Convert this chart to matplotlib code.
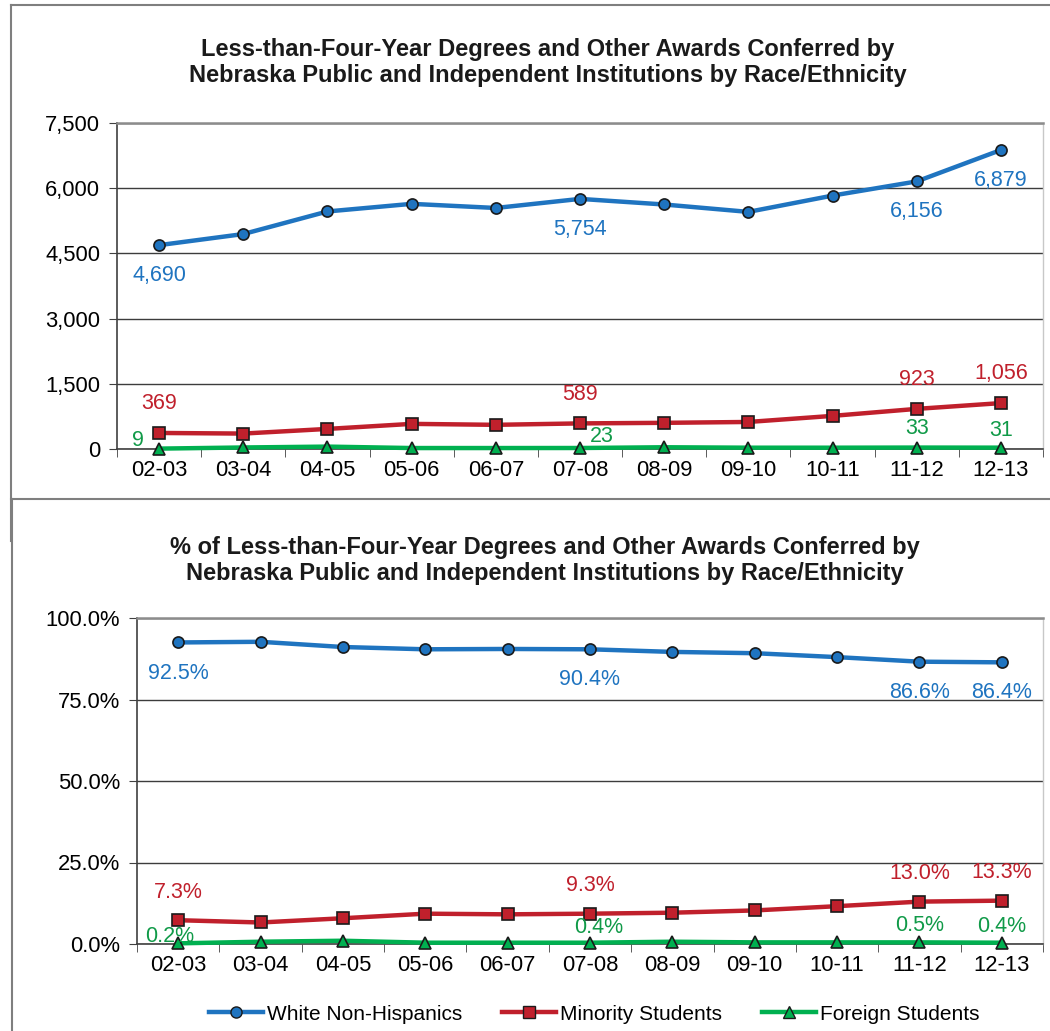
import matplotlib
matplotlib.use("Agg")
import matplotlib.pyplot as plt
from matplotlib.lines import Line2D
import numpy as np

plt.rcParams['font.family'] = ['Liberation Sans', 'DejaVu Sans']

years = ["02-03", "03-04", "04-05", "05-06", "06-07", "07-08", "08-09", "09-10", "10-11", "11-12", "12-13"]
white = [4690, 4945, 5465, 5640, 5545, 5754, 5625, 5455, 5830, 6156, 6879]
minority = [369, 355, 462, 578, 556, 589, 602, 622, 762, 923, 1056]
foreign = [9, 35, 55, 22, 22, 23, 40, 30, 30, 33, 31]

white_pct = [92.5, 92.7, 91.1, 90.4, 90.5, 90.4, 89.6, 89.2, 88.0, 86.6, 86.4]
minority_pct = [7.3, 6.6, 7.9, 9.3, 9.1, 9.3, 9.6, 10.3, 11.6, 13.0, 13.3]
foreign_pct = [0.2, 0.7, 1.0, 0.4, 0.4, 0.4, 0.7, 0.5, 0.5, 0.5, 0.4]

label_idx = [0, 5, 9, 10]

title1 = "Less-than-Four-Year Degrees and Other Awards Conferred by\nNebraska Public and Independent Institutions by Race/Ethnicity"
title2 = "% of Less-than-Four-Year Degrees and Other Awards Conferred by\nNebraska Public and Independent Institutions by Race/Ethnicity"
series_names = ["White Non-Hispanics", "Minority Students", "Foreign Students"]

BLUE = "#1f74c0"
RED = "#c0202c"
GREEN = "#00b050"
BLUE_T = "#1f74c0"
RED_T = "#c0202c"
GREEN_T = "#109a48"

TICK_FS = 15.8
LAB_FS = 15.5
TITLE_FS = 17

W, H = 1050, 1031
fig = plt.figure(figsize=(W / 100, H / 100), dpi=100)


def px_axes(left, top, right, bottom):
    return fig.add_axes([left / W, (H - bottom) / H, (right - left) / W, (bottom - top) / H])


def style(ax, ymax, step, fmt):
    x = np.arange(len(years))
    ax.set_xlim(-0.5, len(years) - 0.5)
    ax.set_ylim(0, ymax)
    ax.set_yticks(np.arange(0, ymax + step / 2, step))
    ax.set_yticklabels([fmt(v) for v in np.arange(0, ymax + step / 2, step)], fontsize=TICK_FS)
    ax.set_xticks(x)
    ax.set_xticklabels(years, fontsize=TICK_FS)
    ax.set_xticks(np.arange(-0.5, len(years), 1), minor=True)
    ax.tick_params(axis='x', which='major', length=0, pad=8)
    ax.tick_params(axis='x', which='minor', length=6, color='#404040', direction='out')
    ax.tick_params(axis='y', length=6, color='#404040', direction='out', pad=6)
    ax.yaxis.grid(True, color='#3c3c3c', lw=1.0)
    ax.set_axisbelow(True)
    for s in ['left', 'bottom']:
        ax.spines[s].set_color('#404040')
        ax.spines[s].set_linewidth(1.2)
    ax.spines['top'].set_color('#8c8c8c')
    ax.spines['top'].set_linewidth(1.8)
    ax.spines['right'].set_color('#c8c8c8')
    ax.spines['right'].set_linewidth(1.0)


def plot_series(ax, vals, color, marker, ms):
    x = np.arange(len(years))
    ax.plot(x, vals, color=color, lw=3.2, marker=marker, ms=ms,
            markerfacecolor=color, markeredgecolor='#1a1a1a', markeredgewidth=1.2, zorder=3,
            clip_on=False)


# ---------- top chart ----------
ax1 = px_axes(117, 123, 1043, 449)
style(ax1, 7500, 1500, lambda v: f"{int(v):,}")
plot_series(ax1, white, BLUE, 'o', 8)
plot_series(ax1, minority, RED, 's', 8)
plot_series(ax1, foreign, GREEN, '^', 8)

for i in label_idx:
    ax1.annotate(f"{white[i]:,}", (i, white[i]), xytext=(0, -22), textcoords='offset points',
                 ha='center', va='center', color=BLUE_T, fontsize=LAB_FS)
    ax1.annotate(f"{minority[i]:,}", (i, minority[i]), xytext=(0, 21), textcoords='offset points',
                 ha='center', va='center', color=RED_T, fontsize=LAB_FS)
g_off = {0: (-15, 6), 5: (16, 8), 9: (0, 14), 10: (0, 12)}
for i in label_idx:
    ax1.annotate(f"{foreign[i]:,}", (i, foreign[i]), xytext=g_off[i], textcoords='offset points',
                 ha='center', va='center', color=GREEN_T, fontsize=LAB_FS)

fig.text(547.5 / W, 1 - 62.5 / H, title1, ha='center', va='center', fontsize=TITLE_FS,
         fontweight='bold', color='#1a1a1a', linespacing=1.2)

# ---------- bottom chart ----------
ax2 = px_axes(137, 618, 1043, 944)
style(ax2, 100, 25, lambda v: f"{v:.1f}%")
plot_series(ax2, white_pct, BLUE, 'o', 8)
plot_series(ax2, minority_pct, RED, 's', 8)
plot_series(ax2, foreign_pct, GREEN, '^', 8)

for i in label_idx:
    ax2.annotate(f"{white_pct[i]:.1f}%", (i, white_pct[i]), xytext=(0, -22), textcoords='offset points',
                 ha='center', va='center', color=BLUE_T, fontsize=LAB_FS)
    ax2.annotate(f"{minority_pct[i]:.1f}%", (i, minority_pct[i]), xytext=(0, 20), textcoords='offset points',
                 ha='center', va='center', color=RED_T, fontsize=LAB_FS)
g_off2 = {0: (-6, 5), 5: (6, 11), 9: (0, 12), 10: (0, 12)}
for i in label_idx:
    ax2.annotate(f"{foreign_pct[i]:.1f}%", (i, foreign_pct[i]), xytext=g_off2[i], textcoords='offset points',
                 ha='center', va='center', color=GREEN_T, fontsize=LAB_FS)

fig.text(544.5 / W, 1 - 560.5 / H, title2, ha='center', va='center', fontsize=TITLE_FS,
         fontweight='bold', color='#1a1a1a', linespacing=1.2)

# legend
handles = [
    Line2D([], [], color=BLUE, lw=3.2, marker='o', ms=8, markerfacecolor=BLUE, markeredgecolor='#1a1a1a'),
    Line2D([], [], color=RED, lw=3.2, marker='s', ms=8, markerfacecolor=RED, markeredgecolor='#1a1a1a'),
    Line2D([], [], color=GREEN, lw=3.2, marker='^', ms=8, markerfacecolor=GREEN, markeredgecolor='#1a1a1a'),
]
fig.legend(handles, series_names, loc='center', bbox_to_anchor=(594 / W, 1 - 1014 / H), ncol=3,
           frameon=False, fontsize=15, handlelength=2.6, handletextpad=0.2, columnspacing=1.9)

# panel borders
bc = '#7f7f7f'
fig.add_artist(Line2D([11 / W, 11 / W], [1 - 5 / H, 1 - 541 / H], color=bc, lw=1.5, transform=fig.transFigure))
fig.add_artist(Line2D([11 / W, 1], [1 - 5 / H, 1 - 5 / H], color=bc, lw=1.5, transform=fig.transFigure))
fig.add_artist(Line2D([11 / W, 1], [1 - 499 / H, 1 - 499 / H], color=bc, lw=1.5, transform=fig.transFigure))
fig.add_artist(Line2D([12 / W, 12 / W], [1 - 499 / H, 0], color=bc, lw=1.5, transform=fig.transFigure))

fig.savefig("out.png", dpi=100)
